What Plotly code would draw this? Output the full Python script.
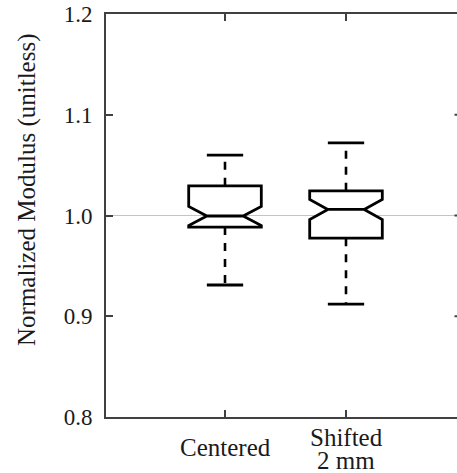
import plotly.graph_objects as go

# ---- data ----
categories = ["Centered", "Shifted<br>2 mm"]
positions = [1, 2]
q1_vals = [0.9885, 0.9775]
median_vals = [0.9995, 1.006]
q3_vals = [1.0295, 1.0245]
lower_whisker = [0.931, 0.912]
upper_whisker = [1.060, 1.072]
notch_span = [0.0095, 0.0100]
ytick_vals = [0.8, 0.9, 1.0, 1.1, 1.2]
ytick_text = ["0.8", "0.9", "1.0", "1.1", "1.2"]
reference_value = 1.0

# ---- layout geometry (window pixels) ----
W, H = 457, 473
ML, MR, MT, MB = 106, 0, 14, 473 - 417
PW, PH = W - ML - MR, H - MT - MB
AXC = "#404040"
TXT = "#1a1a1a"
FONT = "Liberation Serif"
box_w = 0.6
cap_half = 0.15
px_per_unit = 121.0
x0 = 1 - (225 - ML) / px_per_unit
x1 = x0 + PW / px_per_unit


def py_to_paper(py):
    return (H - MB - py) / PH


fig = go.Figure()

for i, c in enumerate(categories):
    x = positions[i]
    # dashed whiskers (start at the box, run outward)
    fig.add_trace(go.Scatter(
        x=[x, x, None, x, x],
        y=[q3_vals[i], upper_whisker[i], None, q1_vals[i], lower_whisker[i]],
        mode="lines", line=dict(color="black", width=2.6, dash="8px,8px"),
        showlegend=False, hoverinfo="skip"))
    # whisker caps
    fig.add_trace(go.Scatter(
        x=[x - cap_half, x + cap_half, None, x - cap_half, x + cap_half],
        y=[upper_whisker[i], upper_whisker[i], None, lower_whisker[i], lower_whisker[i]],
        mode="lines", line=dict(color="black", width=2.8),
        showlegend=False, hoverinfo="skip"))
    # notched box
    fig.add_trace(go.Box(
        x=[x], q1=[q1_vals[i]], median=[median_vals[i]], q3=[q3_vals[i]],
        lowerfence=[q1_vals[i]], upperfence=[q3_vals[i]],
        notchspan=[notch_span[i]], notched=True, notchwidth=0.25,
        width=box_w, whiskerwidth=0,
        fillcolor="white", line=dict(color="black", width=2.8),
        boxpoints=False, showlegend=False, hoverinfo="skip"))

shapes = [dict(type="line", xref="paper", yref="y", x0=0, x1=1,
               y0=reference_value, y1=reference_value,
               line=dict(color="#c4c4c4", width=1), layer="below")]
# right-side ticks (right frame edge lies just outside the window)
for v in ytick_vals[1:-1]:
    shapes.append(dict(type="line", xref="paper", yref="y",
                       x0=1 - 2.5 / PW, x1=1, y0=v, y1=v,
                       line=dict(color=AXC, width=2)))

annotations = []
for i, c in enumerate(categories):
    lines = c.split("<br>")
    n = len(lines)
    center = 447.5 + 1.5 * (n - 1)
    for j, ln in enumerate(lines):
        py = center + (j - (n - 1) / 2) * 23
        annotations.append(dict(x=positions[i], xref="x", y=py_to_paper(py), yref="paper",
                                text=ln, showarrow=False, xanchor="center", yanchor="middle",
                                font=dict(family=FONT, size=25, color=TXT)))
annotations.append(dict(x=(27 - ML) / PW, xref="paper", y=py_to_paper(190), yref="paper",
                        text="Normalized Modulus (unitless)", textangle=-90, showarrow=False,
                        xanchor="center", yanchor="middle",
                        font=dict(family=FONT, size=25, color=TXT)))

fig.update_layout(
    width=W, height=H, margin=dict(l=ML, r=MR, t=MT, b=MB, pad=0),
    paper_bgcolor="white", plot_bgcolor="white",
    shapes=shapes, annotations=annotations, showlegend=False,
    xaxis=dict(range=[x0, x1], tickvals=positions, showticklabels=False,
               ticks="inside", ticklen=7, tickwidth=2, tickcolor=AXC,
               showline=True, linecolor=AXC, linewidth=2, mirror="ticks",
               showgrid=False, zeroline=False, fixedrange=True),
    yaxis=dict(range=[0.8, 1.2], tickvals=ytick_vals, ticktext=ytick_text,
               ticks="inside", ticklen=7, tickwidth=2, tickcolor=AXC,
               showline=True, linecolor=AXC, linewidth=2, mirror=False,
               showgrid=False, zeroline=False, fixedrange=True,
               ticklabeloverflow="allow",
               tickfont=dict(family=FONT, size=23, color=TXT), ticklabelstandoff=7),
)

fig.write_html("out.html", config=dict(displayModeBar=False),
               post_script="document.body.style.margin='0';document.body.style.overflow='hidden';")
